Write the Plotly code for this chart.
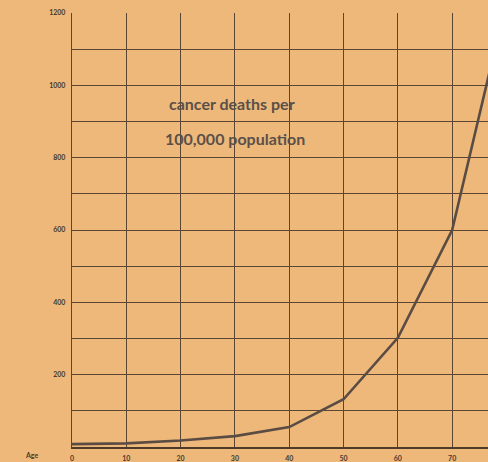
import plotly.graph_objects as go

ages = [0, 10, 20, 30, 40, 50, 60, 70, 80]
deaths = [8, 10, 18, 30, 55, 132, 302, 600, 1235]
x_ticks = [0, 10, 20, 30, 40, 50, 60, 70]
y_ticks = [200, 400, 600, 800, 1000, 1200]
title_lines = ["cancer deaths per", "100,000 population"]

paper = "#eeb87b"
ink = "#5a4632"
fig = go.Figure()
fig.add_trace(go.Scatter(x=ages, y=deaths, mode="lines",
                         line=dict(color="#5a4c42", width=2.6), hoverinfo="skip"))

fig.update_layout(
    width=488, height=462,
    margin=dict(l=72, r=0, t=13, b=15),
    paper_bgcolor=paper, plot_bgcolor=paper,
    showlegend=False,
    font=dict(family="Lato, DejaVu Sans", color=ink),
)
fig.update_xaxes(range=[0, 76.6], tickvals=x_ticks, ticktext=[str(v) for v in x_ticks],
                 showgrid=True, gridcolor=ink, gridwidth=1.3,
                 tickfont=dict(size=7, family="Lato", color="#4a3a2c", weight="bold"),
                 ticks="", ticklabelstandoff=3, zeroline=False,
                 showline=True, linecolor="#4e3a28", linewidth=2.2, mirror=False)
fig.update_yaxes(range=[0, 1200], tickvals=list(range(0, 1201, 100)),
                 ticktext=["" if v % 200 or v == 0 else str(v) for v in range(0, 1201, 100)],
                 showgrid=True, gridcolor=ink, gridwidth=1.3,
                 tickfont=dict(size=7, family="Lato", color="#4a3a2c", weight="bold"),
                 ticks="", ticklabelstandoff=4, zeroline=False,
                 showline=True, linecolor=ink, linewidth=1.3)

fig.add_annotation(x=29.5, y=951, text=title_lines[0], showarrow=False,
                   font=dict(size=16, family="Lato", color="#5b5048", weight="bold"))
fig.add_annotation(x=30, y=854, text=title_lines[1], showarrow=False,
                   font=dict(size=16, family="Lato", color="#5b5048", weight="bold"))
fig.add_annotation(x=-0.118, y=0, xref="paper", yref="paper", text="Age", showarrow=False,
                   yshift=-14, font=dict(size=7, family="Lato", color="#4a3a2c", weight="bold"))

fig.write_html("out.html", config={"displayModeBar": False},
               post_script="document.body.style.margin='0px';document.body.style.background='%s';" % paper)
